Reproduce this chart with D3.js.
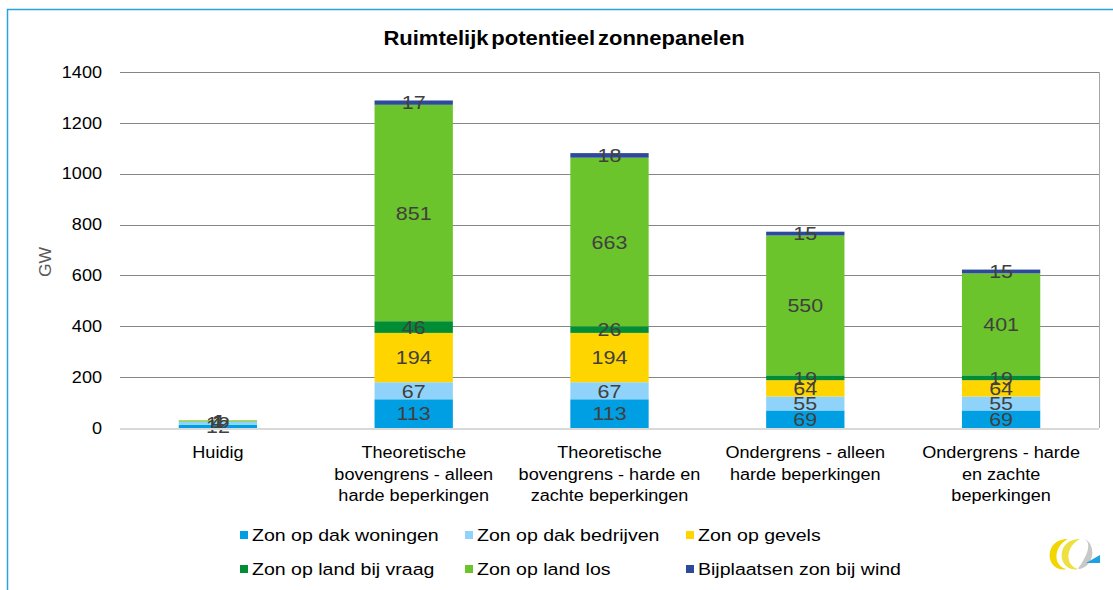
<!DOCTYPE html>
<html>
<head>
<meta charset="utf-8">
<script src="https://cdn.jsdelivr.net/npm/d3@7"></script>
<style>
  body { margin: 0; background: #fff; }
  svg { font-family: "Liberation Sans", Arial, sans-serif; }
</style>
</head>
<body>
<svg id="chart" width="1113" height="590"></svg>
<script>
// categories (multi-line labels)
const categories = [
  ["Huidig"],
  ["Theoretische", "bovengrens - alleen", "harde beperkingen"],
  ["Theoretische", "bovengrens - harde en", "zachte beperkingen"],
  ["Ondergrens - alleen", "harde beperkingen"],
  ["Ondergrens - harde", "en zachte", "beperkingen"]
];
const seriesNames = ["Zon op dak woningen", "Zon op dak bedrijven", "Zon op gevels",
  "Zon op land bij vraag", "Zon op land los", "Bijplaatsen zon bij wind"];
const seriesColors = ["#009fe3", "#8fd3fb", "#ffd500", "#008d36", "#6cc42c", "#2c4a99"];

// values per series, one per category (GW)
const dakWoningen  = [12, 113, 113, 69, 69];
const dakBedrijven = [12, 67, 67, 55, 55];
const gevels       = [1, 194, 194, 64, 64];
const landVraag    = [1, 46, 26, 19, 19];
const landLos      = [4, 851, 663, 550, 401];
const wind         = [0, 17, 18, 15, 15];
const series = [dakWoningen, dakBedrijven, gevels, landVraag, landLos, wind];

const yTicks = [0, 200, 400, 600, 800, 1000, 1200, 1400];

// the reference text is a bit wider than the font, stretch it horizontally
const SX = 1.13;

const svg = d3.select("#chart");

// helper: text stretched horizontally around its anchor point
function stretchedText(g, cx, cy, str, anchor, sx) {
  return g.append("text")
    .attr("transform", `translate(${cx},${cy}) scale(${sx},1)`)
    .attr("text-anchor", anchor)
    .text(str);
}

// outer frame (blue lines top and left)
svg.append("path")
  .attr("d", "M7.5,590 L7.5,9.5 L1113,9.5")
  .attr("fill", "none")
  .attr("stroke", "#29a3dc")
  .attr("stroke-width", 1.5);

// title
stretchedText(svg, 564, 45, "Ruimtelijk potentieel zonnepanelen", "middle", 1.1)
  .attr("font-size", 20).attr("font-weight", "bold")
  .attr("word-spacing", -3)
  .attr("fill", "#000");

const plot = { left: 120, right: 1099, top: 72, bottom: 428 };

const x = d3.scaleBand()
  .domain(d3.range(categories.length))
  .range([plot.left, plot.right])
  .paddingInner(0.6).paddingOuter(0.3);

const y = d3.scaleLinear().domain([0, 1400]).range([plot.bottom, plot.top]);

// gridlines
svg.append("g")
  .selectAll("line")
  .data(yTicks.filter(d => d > 0))
  .join("line")
  .attr("x1", plot.left).attr("x2", plot.right)
  .attr("y1", d => Math.round(y(d)) + 0.5).attr("y2", d => Math.round(y(d)) + 0.5)
  .attr("stroke", "#868686").attr("stroke-width", 1);

// plot box right border
svg.append("line")
  .attr("x1", plot.right + 0.5).attr("x2", plot.right + 0.5)
  .attr("y1", plot.top).attr("y2", plot.bottom)
  .attr("stroke", "#a6a6a6");

// y axis tick labels
const yAxisG = svg.append("g");
yTicks.forEach(t => {
  stretchedText(yAxisG, 102, y(t), d3.format("d")(t), "end", SX)
    .attr("dy", "0.36em")
    .attr("font-size", 16).attr("fill", "#000");
});

// y axis title
svg.append("text")
  .attr("transform", "translate(51,262) rotate(-90) scale(1.1,1)")
  .attr("text-anchor", "middle")
  .attr("font-size", 16).attr("fill", "#595959")
  .text("GW");

// stacked bars
const rows = categories.map((c, i) => {
  const r = {};
  series.forEach((s, k) => { r[k] = s[i]; });
  return r;
});
const stack = d3.stack().keys(d3.range(series.length));
const stacked = stack(rows);

const layers = svg.append("g").selectAll("g")
  .data(stacked)
  .join("g")
  .attr("fill", (d, k) => seriesColors[k]);

layers.selectAll("rect")
  .data(d => d)
  .join("rect")
  .attr("x", (d, i) => x(i))
  .attr("width", x.bandwidth())
  .attr("y", d => y(d[1]))
  .attr("height", d => y(d[0]) - y(d[1]));

// value labels
const labels = svg.append("g");
stacked.forEach((layer, k) => {
  layer.forEach((d, i) => {
    const v = series[k][i];
    if (v <= 0) return;
    stretchedText(labels, x(i) + x.bandwidth() / 2, (y(d[0]) + y(d[1])) / 2, v, "middle", SX)
      .attr("dy", "0.36em")
      .attr("font-size", 19).attr("fill", "#404040");
  });
});

// x axis baseline
svg.append("line")
  .attr("x1", plot.left).attr("x2", plot.right)
  .attr("y1", plot.bottom + 1).attr("y2", plot.bottom + 1)
  .attr("stroke", "#d9d9d9").attr("stroke-width", 2);

// category labels
const catG = svg.append("g");
categories.forEach((lines, i) => {
  lines.forEach((ln, j) => {
    stretchedText(catG, x(i) + x.bandwidth() / 2, 458 + j * 21.5, ln, "middle", SX)
      .attr("font-size", 16).attr("fill", "#000");
  });
});

// legend
const legendPos = [[240, 535], [465, 535], [686, 535], [240, 569], [465, 569], [686, 569]];
const legend = svg.append("g").selectAll("g")
  .data(seriesNames)
  .join("g")
  .attr("transform", (d, k) => `translate(${legendPos[k][0]},${legendPos[k][1]})`);
legend.append("rect")
  .attr("x", 0).attr("y", -4).attr("width", 8).attr("height", 8)
  .attr("fill", (d, k) => seriesColors[k]);
legend.append("text")
  .attr("transform", "translate(12,0) scale(1.15,1)")
  .attr("dy", "0.36em")
  .attr("font-size", 17).attr("fill", "#000")
  .text(d => d);

// logo (bottom right)
const logo = svg.append("g").attr("transform", "translate(1046,537)");
logo.append("path")
  .attr("d", "M22,2 C8,2 2,12 4,22 C6,30 14,34 20,32 C12,30 9,22 11,15 C13,8 18,4 22,2 Z")
  .attr("fill", "#f3d600");
logo.append("path")
  .attr("d", "M34,2 C20,2 14,12 16,22 C18,30 26,34 32,32 C24,30 21,22 23,15 C25,8 30,4 34,2 Z")
  .attr("fill", "#ece140");
logo.append("path")
  .attr("d", "M36,2 C44,2 44,12 38,22 C34,30 30,32 34,32 C42,30 48,22 46,12 C44,4 40,2 36,2 Z")
  .attr("fill", "#c8c8c8");
logo.append("path")
  .attr("d", "M40,26 L54,18 L54,26 Z")
  .attr("fill", "#1ea1e0");
</script>
</body>
</html>
